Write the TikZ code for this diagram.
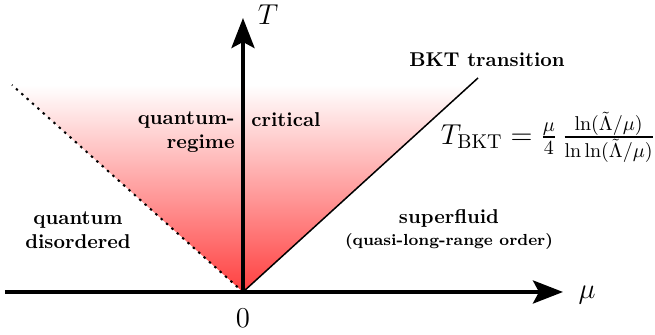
\documentclass[tikz,border=0pt]{standalone}
\usepackage{tikz}
\usetikzlibrary{arrows.meta,positioning,calc}
\usepackage{amsmath}

\begin{document}
\begin{tikzpicture}[x=0.5pt,y=0.5pt,
	axis/.style={line width=2pt,-{Stealth[length=15pt,width=11.5pt,inset=3pt]}},
	region/.style={font=\bfseries,align=center,inner sep=1pt}]
	\useasboundingbox (-243,-43) rectangle (412,292);
	\coordinate (O) at (0,0);
	\coordinate (muL) at (-238,0);
	\coordinate (muR) at (320,0);
	\coordinate (Ttop) at (0,274);
	\coordinate (bkt) at (235,214);
	\coordinate (dis) at (-231,207);
	% shaded critical fan
	\shade[top color=white,bottom color=red!75] (O) -- (dis) -- ($(O)!0.967!(bkt)$) -- cycle;
	\draw[line width=1pt,dash pattern=on 1.2pt off 2.4pt] (O) -- (dis);
	\draw[line width=0.75pt] (O) -- (bkt);
	\draw[axis] (muL) -- (muR);
	\draw[axis] (O) -- (Ttop);
	% labels
	\node[font=\Large] (Tlab) at (25,277) {$T$};
	\node[font=\Large] (mulab) at (344,-3) {$\mu$};
	\node[font=\Large] (zero) at (0,-26) {$0$};
	\node[region] (bktlab) at (244,232) {BKT transition};
	\node[font=\Large,inner sep=0pt] (formula) at (305,155) {$T_{\mathrm{BKT}}=\frac{\mu}{4}\,\frac{\ln(\tilde{\Lambda}/\mu)}{\ln\ln(\tilde{\Lambda}/\mu)}$};
	\node[region,align=right,anchor=east] (qreg) at (-6,160) {quantum-\\regime};
	\node[region,anchor=west] (crit) at (6,172) {critical};
	\node[region] (qdis) at (-165,62) {quantum\\disordered};
	\node[region] (sf) at (206,62) {superfluid\\[-1pt]{\footnotesize (quasi-long-range order)}};
\end{tikzpicture}
\end{document}
